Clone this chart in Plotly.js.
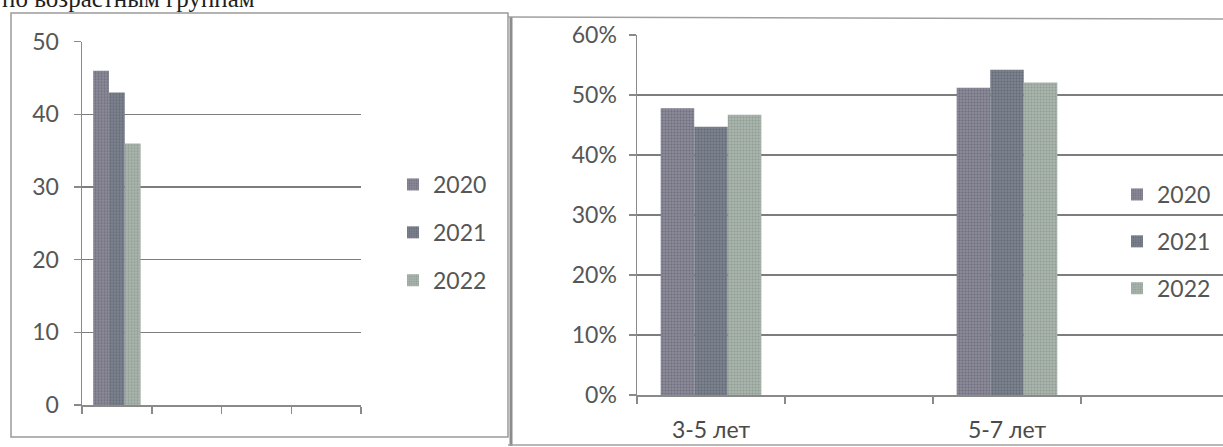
<!DOCTYPE html>
<html>
<head>
<meta charset="utf-8">
<script src="https://cdn.plot.ly/plotly-3.0.1.min.js"></script>
<style>
  html, body { margin: 0; padding: 0; background: #ffffff; }
  #chart { width: 1223px; height: 447px; }
</style>
</head>
<body>
<div id="chart"></div>
<script>
// ---- data ----
const years = ["2020", "2021", "2022"];

// left chart: four unlabeled category slots, data only in the first one
const leftCategories = ["\u00a0", "\u00a0\u00a0", "\u00a0\u00a0\u00a0", "\u00a0\u00a0\u00a0\u00a0"];
const left2020 = [46, null, null, null];
const left2021 = [43, null, null, null];
const left2022 = [36, null, null, null];
const leftTicks = [0, 10, 20, 30, 40, 50];

// right chart: age groups (Excel-style slots, every other slot empty)
const ageGroups = ["3-5 лет", "\u00a0", "5-7 лет", "\u00a0\u00a0"];
const share2020 = [0.478, null, 0.512, null];
const share2021 = [0.447, null, 0.542, null];
const share2022 = [0.467, null, 0.521, null];
const rightTicks = [0, 0.1, 0.2, 0.3, 0.4, 0.5, 0.6];

const headerText = "по возрастным группам";

// ---- styling ----
const W = 1223, H = 447;
const px = v => v / W;
const py = v => 1 - v / H;
const colors = ["#8b8a98", "#7c838f", "#a9b5ad"];
const dots = ["#6f6d7e", "#636a76", "#8f9c94"];
const fontFam = "Lato, 'Open Sans', sans-serif";
const txtCol = "#565656";

function barTrace(name, xs, ys, i, xa, ya, lg) {
  return {
    type: "bar", name: name, x: xs, y: ys, xaxis: xa, yaxis: ya,
    legend: lg, legendgroup: lg + name,
    marker: {
      color: colors[i],
      line: { width: 0 },
      pattern: { shape: ".", fgcolor: dots[i], bgcolor: colors[i], size: 3, solidity: 0.35 }
    },
    hoverinfo: "skip"
  };
}

const leftSeries = [left2020, left2021, left2022];
const rightSeries = [share2020, share2021, share2022];
const traces = [];
years.forEach((y, i) => traces.push(barTrace(y, leftCategories, leftSeries[i], i, "x", "y", "legend")));
years.forEach((y, i) => traces.push(barTrace(y, ageGroups, rightSeries[i], i, "x2", "y2", "legend2")));

const gridCol = "#7d7d7d";
const axisCol = "#8a8a8a";

const layout = {
  width: W, height: H,
  margin: { l: 0, r: 0, t: 0, b: 0, pad: 0 },
  paper_bgcolor: "#ffffff", plot_bgcolor: "rgba(0,0,0,0)",
  barmode: "group", bargap: 0.32, bargroupgap: 0,
  showlegend: true,
  font: { family: fontFam, size: 23, color: txtCol },
  xaxis: {
    domain: [px(82), px(361)], type: "category",
    categoryorder: "array", categoryarray: leftCategories,
    range: [-0.5, 3.5], showticklabels: false,
    ticks: "outside", tickson: "boundaries", ticklen: 7, tickcolor: axisCol, tickwidth: 1.5,
    showline: true, linecolor: axisCol, linewidth: 1.5, showgrid: false, zeroline: false,
    fixedrange: true, anchor: "y"
  },
  yaxis: {
    domain: [py(405), py(41.7)], range: [0, 50],
    tickvals: leftTicks, ticks: "outside", ticklen: 7, tickcolor: axisCol, tickwidth: 1.5,
    ticklabelstandoff: 10,
    showline: true, linecolor: axisCol, linewidth: 1.5,
    showgrid: true, gridcolor: gridCol, gridwidth: 1.5, zeroline: false,
    tickfont: { family: fontFam, size: 23, color: txtCol },
    fixedrange: true, anchor: "x"
  },
  xaxis2: {
    domain: [px(637), 1], type: "category",
    categoryorder: "array", categoryarray: ageGroups,
    range: [-0.5, -0.5 + (W - 637) / 148],
    ticks: "outside", tickson: "boundaries", ticklen: 7, tickcolor: axisCol, tickwidth: 1.5,
    ticklabelstandoff: 14,
    showline: true, linecolor: axisCol, linewidth: 1.5, showgrid: false, zeroline: false,
    tickfont: { family: fontFam, size: 23, color: "#4a4a4a" },
    fixedrange: true, anchor: "y2"
  },
  yaxis2: {
    domain: [py(395), py(35)], range: [0, 0.6],
    tickvals: rightTicks, tickformat: ".0%",
    ticks: "outside", ticklen: 7, tickcolor: axisCol, tickwidth: 1.5,
    ticklabelstandoff: 7,
    showline: true, linecolor: axisCol, linewidth: 1.5,
    showgrid: true, gridcolor: gridCol, gridwidth: 1.5, zeroline: false,
    tickfont: { family: fontFam, size: 23, color: txtCol },
    fixedrange: true, anchor: "x2"
  },
  legend: {
    x: px(393), xanchor: "left", y: py(163), yanchor: "top",
    bgcolor: "rgba(0,0,0,0)", borderwidth: 0,
    font: { family: fontFam, size: 23, color: txtCol },
    tracegroupgap: 15, itemwidth: 30, traceorder: "grouped"
  },
  legend2: {
    x: px(1117), xanchor: "left", y: py(173), yanchor: "top",
    bgcolor: "rgba(0,0,0,0)", borderwidth: 0,
    font: { family: fontFam, size: 23, color: txtCol },
    tracegroupgap: 14, itemwidth: 30, traceorder: "grouped"
  },
  shapes: [
    // left chart frame
    { type: "rect", xref: "paper", yref: "paper", x0: px(11), x1: px(508), y0: py(437), y1: py(13),
      line: { color: "#9a9a9a", width: 1.5 }, layer: "below" },
    // right chart frame: thick left edge, top and bottom
    { type: "line", xref: "paper", yref: "paper", x0: px(511), x1: px(511), y0: py(446), y1: py(17),
      line: { color: "#8c8c8c", width: 3 } },
    { type: "line", xref: "paper", yref: "paper", x0: px(508), x1: 1, y0: py(17), y1: py(19),
      line: { color: "#a0a0a0", width: 1.5 } },
    { type: "line", xref: "paper", yref: "paper", x0: px(508), x1: 1, y0: py(445), y1: py(445),
      line: { color: "#a0a0a0", width: 1.5 } }
  ],
  annotations: [
    { text: headerText, xref: "paper", yref: "paper", x: 0, xanchor: "left",
      y: py(14), yanchor: "bottom", showarrow: false,
      font: { family: "'Liberation Serif', 'Times New Roman', serif", size: 25, color: "#1e1e1e" } }
  ]
};

Plotly.newPlot("chart", traces, layout, { displayModeBar: false, staticPlot: true });
</script>
</body>
</html>
